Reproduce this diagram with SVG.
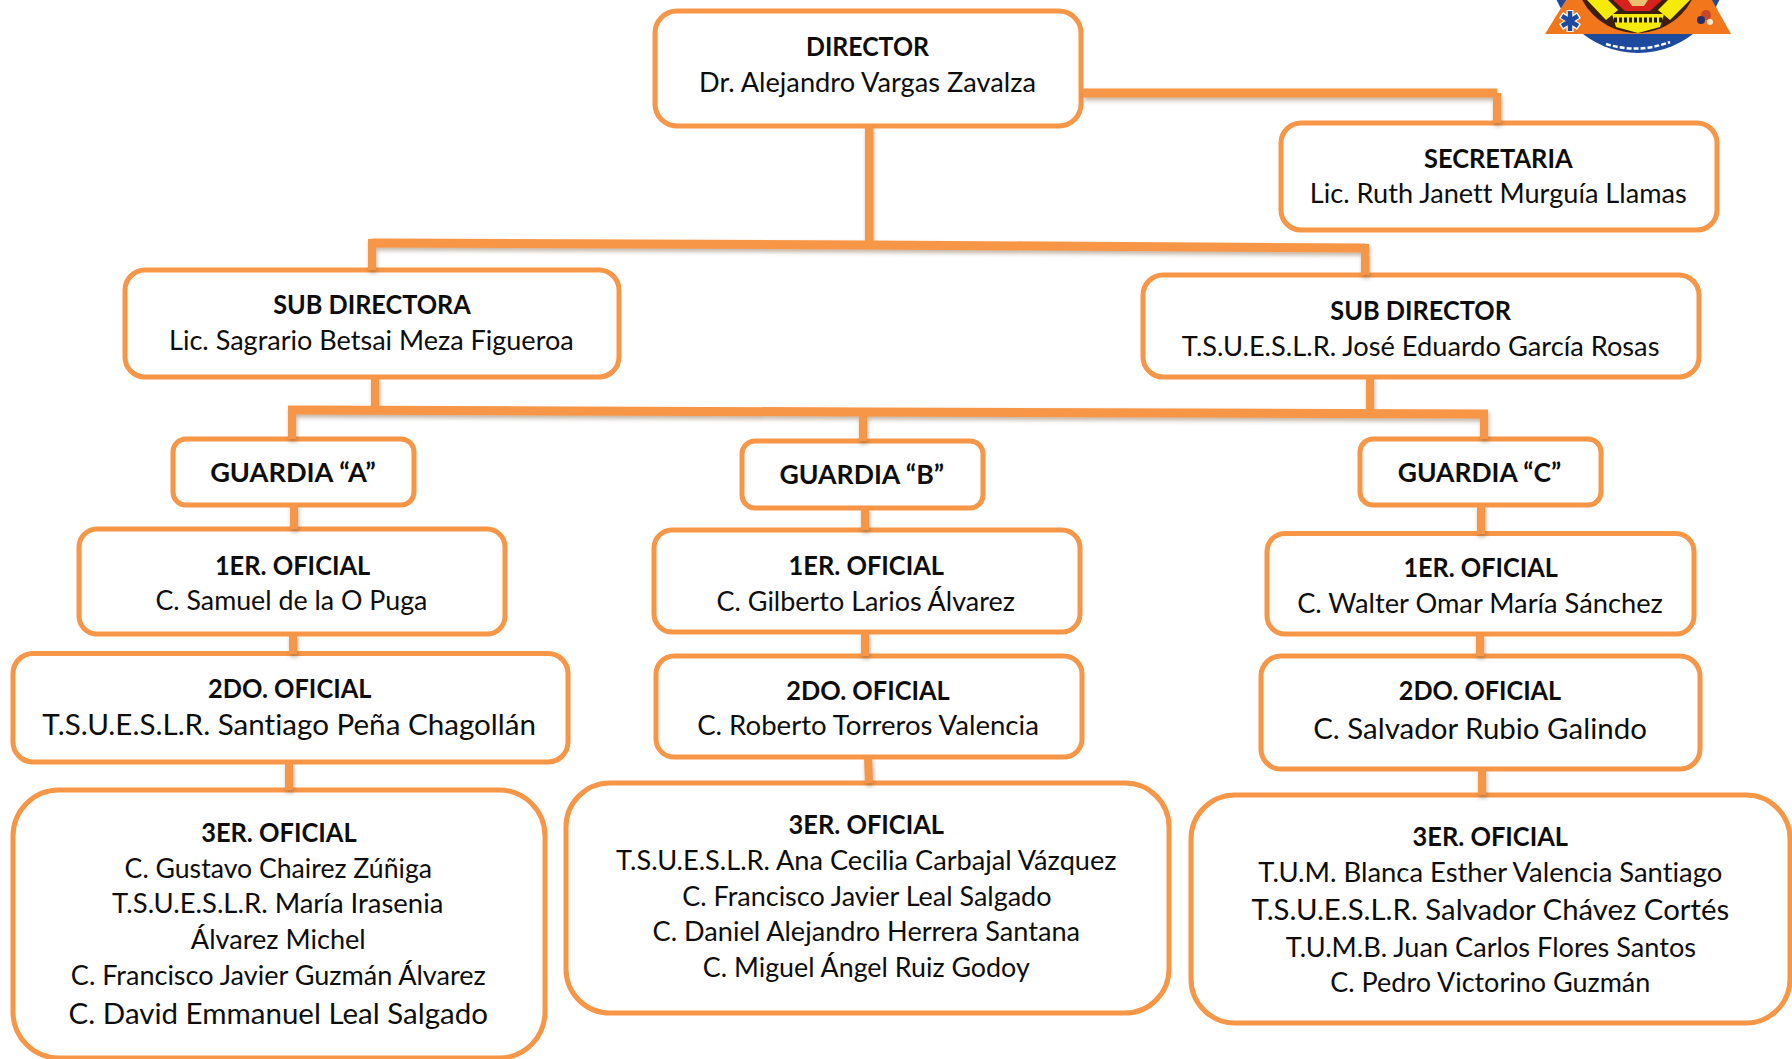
<svg xmlns="http://www.w3.org/2000/svg" width="1792" height="1059" viewBox="0 0 1792 1059">
<defs>
<filter id="sh" x="-20%" y="-20%" width="140%" height="140%" filterUnits="objectBoundingBox" primitiveUnits="userSpaceOnUse"><feDropShadow dx="1" dy="3" stdDeviation="2" flood-color="#7a5a3a" flood-opacity="0.45"/></filter>
</defs>
<style>
text{font-family:"Lato","Noto Sans",sans-serif;font-size:26px;fill:#0d0d0d;text-anchor:middle;font-variant-ligatures:none}
text.b{font-weight:700}
text.l{font-size:28.5px}
rect.n{fill:#fff;stroke:#f79646;stroke-width:5}
#connectors path{fill:none;stroke:#f79646;stroke-width:8;stroke-linejoin:miter}
#connectors path.t{stroke-width:9}
#connectors{filter:url(#sh)}
</style>
<rect width="1792" height="1059" fill="#fff"/>
<g id="logo">
<circle cx="1638" cy="-36" r="89" fill="#1d4a9c"/>
<path d="M1606 44Q1638 54 1670 42" fill="none" stroke="#fff" stroke-width="2.5" stroke-dasharray="5 2"/>
<path d="M1545 34L1566 0H1712L1731 34Z" fill="#f2761b"/>
<circle cx="1637" cy="-29" r="62" fill="#3d1f10"/>
<path d="M1587 0H1608L1618 10L1606 20Z" fill="#f6ea0a"/>
<path d="M1690 0H1668L1658 10L1670 20Z" fill="#f6ea0a"/>
<path d="M1612 14H1664L1660 27L1638 33L1616 27Z" fill="#f6ea0a"/>
<path d="M1613 0H1662L1650 11H1625Z" fill="#d8201c"/>
<path d="M1628 0H1648L1644 6H1632Z" fill="#e8c070"/>
<path d="M1614 20H1662" stroke="#1c1c1c" stroke-width="5" stroke-dasharray="3 2"/>
<path d="M1570 10V32M1561 15L1579 27M1579 15L1561 27" stroke="#fff" stroke-width="7"/>
<path d="M1570 11V31M1562 16L1578 26M1578 16L1562 26" stroke="#1d4a9c" stroke-width="4.5"/>
<circle cx="1706" cy="15" r="5" fill="#c8462a"/><circle cx="1701" cy="20" r="4" fill="#23306e"/><circle cx="1710" cy="22" r="3" fill="#f6ead0"/>
</g>
<g id="director"><rect class="n" x="655" y="11" width="426" height="115" rx="22"/>
<text class="b" x="867.5" y="56" textLength="123" lengthAdjust="spacingAndGlyphs">DIRECTOR</text>
<text x="867.5" y="92" textLength="337" lengthAdjust="spacingAndGlyphs">Dr. Alejandro Vargas Zavalza</text></g>
<g id="secretaria"><rect class="n" x="1281" y="123" width="436" height="107" rx="20"/>
<text class="b" x="1498.3" y="168" textLength="148.6" lengthAdjust="spacingAndGlyphs">SECRETARIA</text>
<text x="1498.3" y="203.4" textLength="377" lengthAdjust="spacingAndGlyphs">Lic. Ruth Janett Murguía Llamas</text></g>
<g id="sub-directora"><rect class="n" x="125" y="270" width="494" height="107" rx="20"/>
<text class="b" x="372" y="314" textLength="197.7" lengthAdjust="spacingAndGlyphs">SUB DIRECTORA</text>
<text x="371.4" y="350" textLength="404.6" lengthAdjust="spacingAndGlyphs">Lic. Sagrario Betsai Meza Figueroa</text></g>
<g id="sub-director"><rect class="n" x="1143" y="275" width="556" height="102" rx="20"/>
<text class="b" x="1420.6" y="320" textLength="180.6" lengthAdjust="spacingAndGlyphs">SUB DIRECTOR</text>
<text x="1420.6" y="355.6" textLength="477.7" lengthAdjust="spacingAndGlyphs">T.S.U.E.S.L.R. José Eduardo García Rosas</text></g>
<g id="guardia-a"><rect class="n" x="173" y="439" width="241" height="66" rx="13"/>
<text class="b" x="293" y="482" textLength="165.7" lengthAdjust="spacingAndGlyphs">GUARDIA “A”</text></g>
<g id="guardia-b"><rect class="n" x="742" y="441" width="241" height="67" rx="13"/>
<text class="b" x="861.7" y="484" textLength="164.6" lengthAdjust="spacingAndGlyphs">GUARDIA “B”</text></g>
<g id="guardia-c"><rect class="n" x="1360" y="439" width="241" height="66" rx="13"/>
<text class="b" x="1479.5" y="482" textLength="163.4" lengthAdjust="spacingAndGlyphs">GUARDIA “C”</text></g>
<g id="oficial1-a"><rect class="n" x="79" y="529" width="426" height="105" rx="18"/>
<text class="b" x="292.6" y="574.6" textLength="155.4" lengthAdjust="spacingAndGlyphs">1ER. OFICIAL</text>
<text x="291.4" y="610" textLength="272" lengthAdjust="spacingAndGlyphs">C. Samuel de la O Puga</text></g>
<g id="oficial1-b"><rect class="n" x="654" y="530" width="426" height="102" rx="18"/>
<text class="b" x="866.3" y="574.6" textLength="155.4" lengthAdjust="spacingAndGlyphs">1ER. OFICIAL</text>
<text x="865.7" y="611" textLength="298.3" lengthAdjust="spacingAndGlyphs">C. Gilberto Larios Álvarez</text></g>
<g id="oficial1-c"><rect class="n" x="1267" y="533.5" width="427" height="100.5" rx="18"/>
<text class="b" x="1480.6" y="576.8" textLength="154.3" lengthAdjust="spacingAndGlyphs">1ER. OFICIAL</text>
<text x="1480" y="613.4" textLength="365.7" lengthAdjust="spacingAndGlyphs">C. Walter Omar María Sánchez</text></g>
<g id="oficial2-a"><rect class="n" x="13" y="653.5" width="555" height="108.5" rx="20"/>
<text class="b" x="289.7" y="698" textLength="163.4" lengthAdjust="spacingAndGlyphs">2DO. OFICIAL</text>
<text class="l" x="289.2" y="735.2" textLength="493.7" lengthAdjust="spacingAndGlyphs">T.S.U.E.S.L.R. Santiago Peña Chagollán</text></g>
<g id="oficial2-b"><rect class="n" x="656" y="656" width="426" height="101" rx="18"/>
<text class="b" x="868" y="700.2" textLength="163.4" lengthAdjust="spacingAndGlyphs">2DO. OFICIAL</text>
<text x="868" y="735" textLength="341.7" lengthAdjust="spacingAndGlyphs">C. Roberto Torreros Valencia</text></g>
<g id="oficial2-c"><rect class="n" x="1261" y="656" width="439" height="113" rx="20"/>
<text class="b" x="1480" y="700.2" textLength="162.3" lengthAdjust="spacingAndGlyphs">2DO. OFICIAL</text>
<text class="l" x="1480" y="738.7" textLength="333.7" lengthAdjust="spacingAndGlyphs">C. Salvador Rubio Galindo</text></g>
<g id="oficial3-a"><rect class="n" x="13" y="790" width="532" height="268" rx="46"/>
<text class="b" x="278.9" y="842" textLength="155.4" lengthAdjust="spacingAndGlyphs">3ER. OFICIAL</text>
<text x="278.3" y="877.8" textLength="307.4" lengthAdjust="spacingAndGlyphs">C. Gustavo Chairez Zúñiga</text>
<text x="277.7" y="913" textLength="331.4" lengthAdjust="spacingAndGlyphs">T.S.U.E.S.L.R. María Irasenia</text>
<text x="278.3" y="948.8" textLength="174.9" lengthAdjust="spacingAndGlyphs">Álvarez Michel</text>
<text x="278.3" y="985" textLength="414.9" lengthAdjust="spacingAndGlyphs">C. Francisco Javier Guzmán Álvarez</text>
<text class="l" x="278.3" y="1023.5" textLength="419.4" lengthAdjust="spacingAndGlyphs">C. David Emmanuel Leal Salgado</text></g>
<g id="oficial3-b"><rect class="n" x="566" y="783" width="603" height="230" rx="44"/>
<text class="b" x="866.3" y="834" textLength="155.4" lengthAdjust="spacingAndGlyphs">3ER. OFICIAL</text>
<text x="866.3" y="870" textLength="500.6" lengthAdjust="spacingAndGlyphs">T.S.U.E.S.L.R. Ana Cecilia Carbajal Vázquez</text>
<text x="866.9" y="906" textLength="369.2" lengthAdjust="spacingAndGlyphs">C. Francisco Javier Leal Salgado</text>
<text x="866.3" y="940.8" textLength="427.4" lengthAdjust="spacingAndGlyphs">C. Daniel Alejandro Herrera Santana</text>
<text x="866.3" y="977" textLength="326.9" lengthAdjust="spacingAndGlyphs">C. Miguel Ángel Ruiz Godoy</text></g>
<g id="oficial3-c"><rect class="n" x="1191" y="795" width="599" height="228" rx="44"/>
<text class="b" x="1490.3" y="845.6" textLength="155.4" lengthAdjust="spacingAndGlyphs">3ER. OFICIAL</text>
<text x="1490.3" y="882" textLength="464" lengthAdjust="spacingAndGlyphs">T.U.M. Blanca Esther Valencia Santiago</text>
<text class="l" x="1490.3" y="919.6" textLength="477.7" lengthAdjust="spacingAndGlyphs">T.S.U.E.S.L.R. Salvador Chávez Cortés</text>
<text x="1490.9" y="956.6" textLength="410.3" lengthAdjust="spacingAndGlyphs">T.U.M.B. Juan Carlos Flores Santos</text>
<text x="1490.3" y="992" textLength="320" lengthAdjust="spacingAndGlyphs">C. Pedro Victorino Guzmán</text></g>
<g id="connectors">
<path class="t" d="M1083 93H1497"/>
<path d="M1497 93V123"/>
<path d="M869 126V244"/>
<path class="t" d="M372 243L869 245L1365 248"/>
<path d="M372 239V270"/>
<path d="M1365 244V275"/>
<path d="M375 377V411"/>
<path d="M1370 377V413"/>
<path class="t" d="M288 410L863 412L1488 414"/>
<path d="M292 410V439"/>
<path d="M863 412V441"/>
<path d="M1484 414V439"/>
<path d="M294 505V529"/>
<path d="M865 507V530"/>
<path d="M1481 505V534"/>
<path d="M293 634V654"/>
<path d="M865 632V656"/>
<path d="M1480 634V656"/>
<path d="M289 762V790"/>
<path d="M868 757L869 783"/>
<path d="M1482 769V795"/>
</g>
</svg>
